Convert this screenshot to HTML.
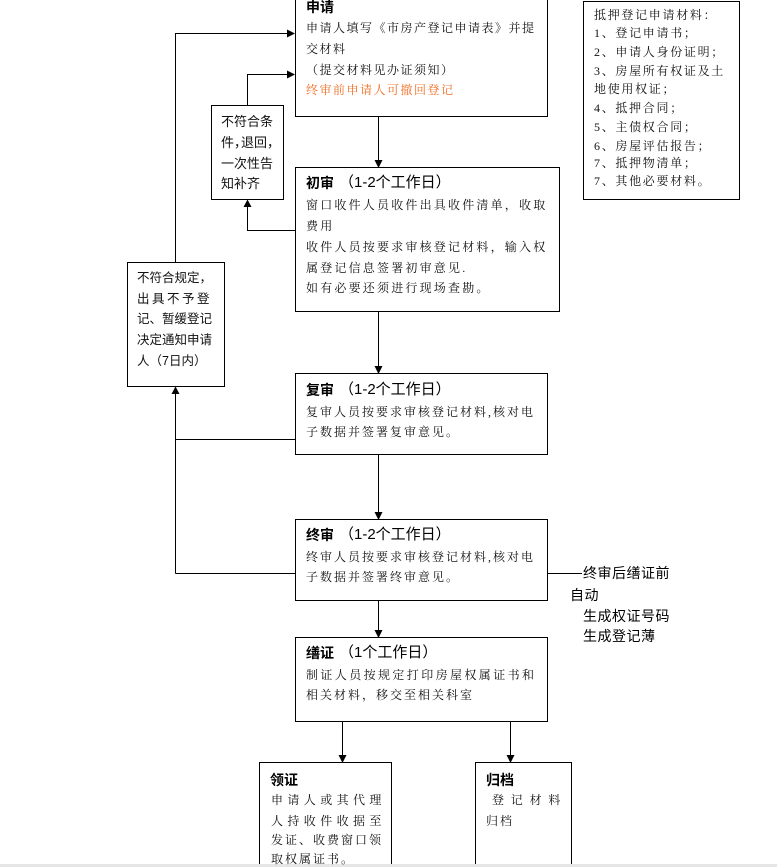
<!DOCTYPE html>
<html>
<head>
<meta charset="utf-8">
<style>
  html,body{margin:0;padding:0;background:#fff;}
  #c{position:relative;width:777px;height:867px;overflow:hidden;background:#fff;}
  svg{position:absolute;left:0;top:0;}
  .t{position:absolute;white-space:nowrap;line-height:16px;height:16px;color:#111;}
  .b{font-family:"Liberation Serif","Noto Serif CJK SC",serif;font-size:12px;}
  .s{font-family:"Liberation Sans","Noto Sans CJK SC",sans-serif;}
  .h{font-family:"Liberation Sans","Noto Sans CJK SC",sans-serif;font-weight:bold;font-size:14px;color:#000;}
  .p{font-family:"Liberation Sans","Noto Sans CJK SC",sans-serif;font-size:15px;color:#000;}
  .c{letter-spacing:-6px;}
  .m{letter-spacing:1.7px;}
</style>
</head>
<body>
<div id="c">
<svg width="777" height="867" viewBox="0 0 777 867">
  <g fill="none" stroke="#000" stroke-width="1">
    <rect x="295.5" y="-5" width="252" height="121.5"/>
    <rect x="295.5" y="167.5" width="264" height="144"/>
    <rect x="295.5" y="373.5" width="252" height="81"/>
    <rect x="295.5" y="519.5" width="252" height="81"/>
    <rect x="295.5" y="637.5" width="252" height="84"/>
    <rect x="259.5" y="762.5" width="132" height="130"/>
    <rect x="475.5" y="762.5" width="96" height="130"/>
    <rect x="583.5" y="1.5" width="156" height="198"/>
    <rect x="211.5" y="105.5" width="72" height="94"/>
    <rect x="127.5" y="262.5" width="97" height="124"/>

    <line x1="378.5" y1="116.5" x2="378.5" y2="161"/>
    <line x1="378.5" y1="311.5" x2="378.5" y2="367"/>
    <line x1="378.5" y1="454.5" x2="378.5" y2="513"/>
    <line x1="378.5" y1="600.5" x2="378.5" y2="631"/>
    <line x1="342.5" y1="721.5" x2="342.5" y2="756"/>
    <line x1="510.5" y1="721.5" x2="510.5" y2="756"/>

    <polyline points="295,230.5 247.5,230.5 247.5,206"/>
    <polyline points="247.5,105 247.5,74.5 289,74.5"/>
    <polyline points="175.5,262 175.5,33.5 289,33.5"/>
    <line x1="295" y1="439.5" x2="175.5" y2="439.5"/>
    <line x1="175.5" y1="573.5" x2="175.5" y2="393"/>
    <line x1="175.5" y1="573.5" x2="295" y2="573.5"/>
    <line x1="547.5" y1="573.5" x2="582" y2="573.5"/>
  </g>
  <g fill="#000" stroke="none">
    <polygon points="374.5,160 382.5,160 378.5,168"/>
    <polygon points="374.5,366 382.5,366 378.5,374"/>
    <polygon points="374.5,512 382.5,512 378.5,520"/>
    <polygon points="374.5,630 382.5,630 378.5,638"/>
    <polygon points="338.5,755 346.5,755 342.5,763"/>
    <polygon points="506.5,755 514.5,755 510.5,763"/>
    <polygon points="243.5,207 251.5,207 247.5,199.5"/>
    <polygon points="171.5,394 179.5,394 175.5,386.5"/>
    <polygon points="287,29.5 287,37.5 295,33.5"/>
    <polygon points="287,70.5 287,78.5 295,74.5"/>
  </g>
  <rect x="0" y="864" width="777" height="3" fill="#e6e6e6"/>
</svg>

<!-- 申请 -->
<div class="t h" style="left:306px;top:-1px;">申请</div>
<div class="t b" style="left:306px;top:20px;letter-spacing:1.5px;">申请人填写《市房产登记申请表》并提</div>
<div class="t b" style="left:306px;top:41px;letter-spacing:1.5px;">交材料</div>
<div class="t b" style="left:306px;top:62px;letter-spacing:1.5px;">（提交材料见办证须知）</div>
<div class="t b" style="left:306px;top:82px;letter-spacing:1.5px;color:#f26c22;">终审前申请人可撤回登记</div>

<!-- 初审 -->
<div class="t h" style="left:306px;top:175px;">初审</div>
<div class="t p" style="left:339px;top:175px;">（1-2个工作日）</div>
<div class="t b" style="left:306px;top:197px;letter-spacing:2.2px;">窗口收件人员收件出具收件清单，收取</div>
<div class="t b" style="left:306px;top:218px;letter-spacing:2.2px;">费用</div>
<div class="t b" style="left:306px;top:239px;letter-spacing:2.2px;">收件人员按要求审核登记材料，输入权</div>
<div class="t b" style="left:306px;top:260px;letter-spacing:2.2px;">属登记信息签署初审意见.</div>
<div class="t b" style="left:306px;top:280px;letter-spacing:2.2px;">如有必要还须进行现场查勘。</div>

<!-- 复审 -->
<div class="t h" style="left:306px;top:382px;">复审</div>
<div class="t p" style="left:339px;top:382px;">（1-2个工作日）</div>
<div class="t b" style="left:306px;top:404px;letter-spacing:2px;">复审人员按要求审核登记材料,核对电</div>
<div class="t b" style="left:306px;top:424px;letter-spacing:2px;">子数据并签署复审意见。</div>

<!-- 终审 -->
<div class="t h" style="left:306px;top:527px;">终审</div>
<div class="t p" style="left:339px;top:527px;">（1-2个工作日）</div>
<div class="t b" style="left:306px;top:549px;letter-spacing:2px;">终审人员按要求审核登记材料,核对电</div>
<div class="t b" style="left:306px;top:569px;letter-spacing:2px;">子数据并签署终审意见。</div>

<!-- 缮证 -->
<div class="t h" style="left:306px;top:645px;">缮证</div>
<div class="t p" style="left:339px;top:645px;">（1个工作日）</div>
<div class="t b" style="left:306px;top:667px;letter-spacing:2.4px;">制证人员按规定打印房屋权属证书和</div>
<div class="t b" style="left:306px;top:687px;letter-spacing:2px;">相关材料，移交至相关科室</div>

<!-- 领证 -->
<div class="t h" style="left:270px;top:772px;">领证</div>
<div class="t b" style="left:271px;top:792px;letter-spacing:4.4px;">申请人或其代理</div>
<div class="t b" style="left:271px;top:813px;letter-spacing:4.4px;">人持收件收据至</div>
<div class="t b" style="left:271px;top:832px;letter-spacing:2px;">发证、收费窗口领</div>
<div class="t b" style="left:271px;top:851px;letter-spacing:2px;">取权属证书。</div>

<!-- 归档 -->
<div class="t h" style="left:486px;top:772px;">归档</div>
<div class="t b" style="left:492px;top:792px;letter-spacing:6.8px;">登记材料</div>
<div class="t b" style="left:486px;top:813px;letter-spacing:2px;">归档</div>

<!-- materials -->
<div class="t b m" style="left:594px;top:7px;">抵押登记申请材料：</div>
<div class="t b m" style="left:594px;top:25px;">1、登记申请书；</div>
<div class="t b m" style="left:594px;top:44px;">2、申请人身份证明；</div>
<div class="t b m" style="left:594px;top:63px;">3、房屋所有权证及土</div>
<div class="t b m" style="left:594px;top:81px;">地使用权证；</div>
<div class="t b m" style="left:594px;top:100px;">4、抵押合同；</div>
<div class="t b m" style="left:594px;top:119px;">5、主债权合同；</div>
<div class="t b m" style="left:594px;top:138px;">6、房屋评估报告；</div>
<div class="t b m" style="left:594px;top:155px;">7、抵押物清单；</div>
<div class="t b m" style="left:594px;top:173px;">7、其他必要材料。</div>

<!-- 不符合条件 box -->
<div class="t s" style="left:221px;top:114px;font-size:13px;">不符合条</div>
<div class="t s" style="left:221px;top:135px;font-size:13px;">件<span class="c">，</span>退回<span class="c">，</span></div>
<div class="t s" style="left:221px;top:156px;font-size:13px;">一次性告</div>
<div class="t s" style="left:221px;top:176px;font-size:13px;">知补齐</div>

<!-- 不符合规定 box -->
<div class="t s" style="left:137px;top:270px;font-size:12.5px;">不符合规定，</div>
<div class="t s" style="left:137px;top:291px;font-size:12.5px;letter-spacing:2.5px;">出具不予登</div>
<div class="t s" style="left:137px;top:311px;font-size:12.5px;">记、暂缓登记</div>
<div class="t s" style="left:137px;top:332px;font-size:12.5px;">决定通知申请</div>
<div class="t s" style="left:137px;top:353px;font-size:12.5px;">人（7日内）</div>

<!-- side text -->
<div class="t s" style="left:583px;top:565px;font-size:14px;letter-spacing:0.5px;color:#000;">终审后缮证前</div>
<div class="t s" style="left:570px;top:587px;font-size:14px;letter-spacing:0.5px;color:#000;">自动</div>
<div class="t s" style="left:583px;top:608px;font-size:14px;letter-spacing:0.5px;color:#000;">生成权证号码</div>
<div class="t s" style="left:583px;top:628px;font-size:14px;letter-spacing:0.5px;color:#000;">生成登记薄</div>
</div>
</body>
</html>
